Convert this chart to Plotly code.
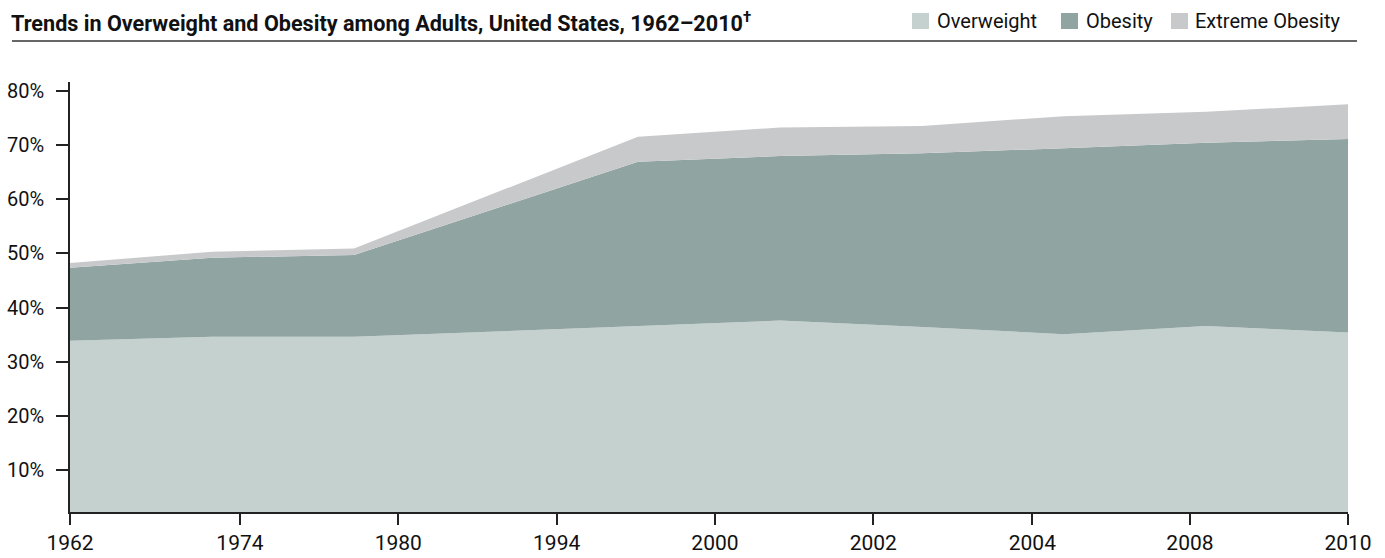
import plotly.graph_objects as go

# Survey periods (evenly spaced positions along the x axis)
periods = ["1960-62", "1971-74", "1976-80", "1988-94", "1999-2000",
           "2001-02", "2003-04", "2005-06", "2007-08", "2009-10"]
period_pos = list(range(len(periods)))

# Values (percent)
overweight = [33.9, 34.6, 34.6, 35.6, 36.6, 37.6, 36.4, 35.1, 36.6, 35.4]
obesity = [13.45, 14.6, 15.1, 22.7, 30.3, 30.35, 32.05, 34.3, 33.8, 35.7]
extreme_obesity = [0.85, 1.1, 1.2, 2.9, 4.6, 5.25, 5.05, 5.9, 5.7, 6.4]

# Axis tick labels and where they sit
x_tick_labels = ["1962", "1974", "1980", "1994", "2000", "2002", "2004", "2008", "2010"]
x_tick_pos = [0, 1.197, 2.312, 3.427, 4.542, 5.657, 6.777, 7.887, 9]
y_tick_vals = [10, 20, 30, 40, 50, 60, 70, 80]
y_tick_text = [f"{v}%" for v in y_tick_vals]

series_names = ["Overweight", "Obesity", "Extreme Obesity"]
colors = ["#c5d1cf", "#90a4a2", "#c8c9cb"]

FONT = "Roboto, Liberation Sans, sans-serif"
W, H = 1385, 558
ML, MR, MT, MB = 70, 37, 82, 46
PW, PH = W - ML - MR, H - MT - MB


def px(x):
    return (x - ML) / PW


def py(y):
    return (H - MB - y) / PH


fig = go.Figure()
for name, vals, col in zip(series_names, [overweight, obesity, extreme_obesity], colors):
    fig.add_trace(go.Scatter(
        x=period_pos, y=vals, name=name, mode="lines",
        stackgroup="one", line=dict(width=0, color=col),
        fillcolor=col, showlegend=False, hoverinfo="x+y+name",
    ))

shapes = []
annotations = []

# Title and rule
annotations.append(dict(
    text="<b>Trends in Overweight and Obesity among Adults, United States, 1962–2010<sup>†</sup></b>",
    xref="paper", yref="paper", x=px(9), y=py(22), xanchor="left", yanchor="middle",
    showarrow=False, font=dict(family=FONT, size=21.6, color="#111111"),
))
shapes.append(dict(type="line", xref="paper", yref="paper",
                   x0=px(12), x1=px(1357), y0=py(41), y1=py(41),
                   line=dict(color="#333333", width=1.5)))

# Manual legend
leg_sq_x = [912, 1061, 1171]
leg_txt_x = [935, 1084, 1193]
for name, col, sx, tx in zip(series_names, colors, leg_sq_x, leg_txt_x):
    shapes.append(dict(type="rect", xref="paper", yref="paper",
                       x0=px(sx), x1=px(sx + 17), y0=py(13), y1=py(29),
                       fillcolor=col, line=dict(width=0)))
    annotations.append(dict(text=name, xref="paper", yref="paper",
                            x=px(tx), y=py(21), xanchor="left", yanchor="middle",
                            showarrow=False,
                            font=dict(family=FONT, size=20, color="#111111")))

fig.update_layout(
    width=W, height=H,
    margin=dict(l=ML, r=MR, t=MT, b=MB, autoexpand=False),
    paper_bgcolor="white", plot_bgcolor="white",
    shapes=shapes, annotations=annotations,
    font=dict(family=FONT, size=20, color="#111111"),
    xaxis=dict(
        range=[0, 9], tickmode="array", tickvals=x_tick_pos, ticktext=x_tick_labels,
        showgrid=False, zeroline=False, showline=True, linecolor="#222222", linewidth=1.5,
        ticks="outside", ticklen=11, tickwidth=1.5, tickcolor="#222222",
        tickfont=dict(family=FONT, size=21, color="#111111"),
        ticklabelstandoff=0, fixedrange=True,
    ),
    yaxis=dict(
        range=[2.3, 81.6], tickmode="array", tickvals=y_tick_vals, ticktext=y_tick_text,
        showgrid=False, zeroline=False, showline=True, linecolor="#222222", linewidth=1.5,
        ticks="outside", ticklen=12, tickwidth=1.5, tickcolor="#222222",
        tickfont=dict(family=FONT, size=20, color="#111111"),
        ticklabelstandoff=8, fixedrange=True,
    ),
)

fig.write_html("out.html")
